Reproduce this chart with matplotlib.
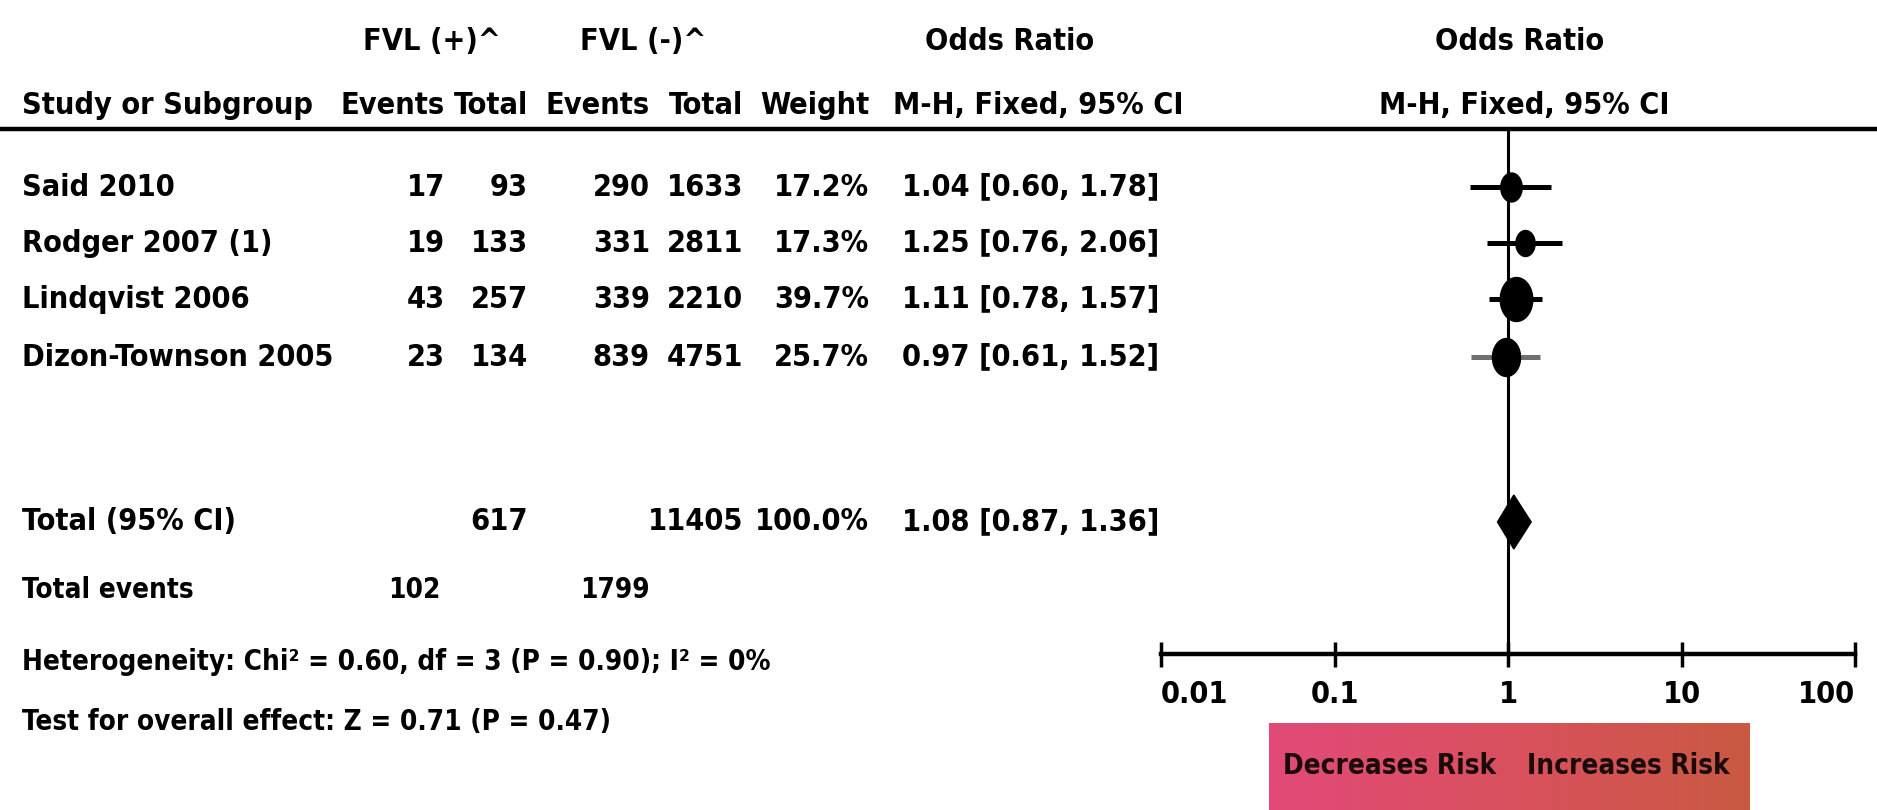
import matplotlib
matplotlib.use("Agg")
import matplotlib.pyplot as plt
import numpy as np
from matplotlib import font_manager as fm
from matplotlib.colors import LinearSegmentedColormap
from matplotlib.patches import Polygon
from matplotlib.ticker import NullLocator

# ---------------- data ----------------
studies = ["Said 2010", "Rodger 2007 (1)", "Lindqvist 2006", "Dizon-Townson 2005"]
events_pos = [17, 19, 43, 23]
total_pos = [93, 133, 257, 134]
events_neg = [290, 331, 339, 839]
total_neg = [1633, 2811, 2210, 4751]
weights = [17.2, 17.3, 39.7, 25.7]
odds_ratio = [1.04, 1.25, 1.11, 0.97]
ci_low = [0.60, 0.76, 0.78, 0.61]
ci_high = [1.78, 2.06, 1.57, 1.52]
marker_px = [29, 26, 44, 38]          # apparent box heights in picture

total_label = "Total (95% CI)"
total_n_pos = 617
total_n_neg = 11405
total_weight = 100.0
total_or = 1.08
total_low = 0.87
total_high = 1.36
total_events_pos = 102
total_events_neg = 1799
heterogeneity = "Heterogeneity: Chi\u00b2 = 0.60, df = 3 (P = 0.90); I\u00b2 = 0%"
overall_test = "Test for overall effect: Z = 0.71 (P = 0.47)"

tick_values = [0.01, 0.1, 1, 10, 100]
tick_labels = ["0.01", "0.1", "1", "10", "100"]
favours_left = "Decreases Risk"
favours_right = "Increases Risk"

# ---------------- font ----------------
names = {f.name for f in fm.fontManager.ttflist}
if "Liberation Sans Narrow" in names:
    FONT, STRETCH = "Liberation Sans Narrow", "normal"
else:
    FONT, STRETCH = "DejaVu Sans", "condensed"

W, H = 1877, 810
fig = plt.figure(figsize=(W / 100, H / 100), dpi=100)
fig.patch.set_facecolor("white")
ax = fig.add_axes([0, 0, 1, 1])
ax.set_xlim(0, W)
ax.set_ylim(H, 0)
ax.axis("off")

FS = 22
FS_FOOT = 20
def T(x, y, s, ha="left", **kw):
    d = dict(fontfamily=FONT, fontstretch=STRETCH, fontweight="bold",
             fontsize=FS, va="center", ha=ha, color="black")
    d.update(kw)
    ax.text(x, y, s, **d)

# column right edges (px)
c_ev1, c_tot1, c_ev2, c_tot2, c_w, c_or = 445, 528, 650, 743, 869, 1159
x_name = 22

# header
y_h1, y_h2, y_line = 42, 106, 129
T(363, y_h1, "FVL (+)^")
T(580, y_h1, "FVL (-)^")
T(1010, y_h1, "Odds Ratio", ha="center")
T(1520, y_h1, "Odds Ratio", ha="center")
T(x_name, y_h2, "Study or Subgroup")
T(c_ev1, y_h2, "Events", ha="right")
T(c_tot1, y_h2, "Total", ha="right")
T(c_ev2, y_h2, "Events", ha="right")
T(c_tot2, y_h2, "Total", ha="right")
T(c_w, y_h2, "Weight", ha="right")
T(893, y_h2, "M-H, Fixed, 95% CI")
T(1524, y_h2, "M-H, Fixed, 95% CI", ha="center")
ax.axhline(y_line, color="black", lw=3.2)

row_y = [187, 243, 299, 357]
for i, y in enumerate(row_y):
    T(x_name, y, studies[i])
    T(c_ev1, y, f"{events_pos[i]}", ha="right")
    T(c_tot1, y, f"{total_pos[i]}", ha="right")
    T(c_ev2, y, f"{events_neg[i]}", ha="right")
    T(c_tot2, y, f"{total_neg[i]}", ha="right")
    T(c_w, y, f"{weights[i]:.1f}%", ha="right")
    T(c_or, y, f"{odds_ratio[i]:.2f} [{ci_low[i]:.2f}, {ci_high[i]:.2f}]", ha="right")

y_tot, y_ev, y_het, y_test = 522, 590, 662, 722
T(x_name, y_tot, total_label)
T(c_tot1, y_tot, f"{total_n_pos}", ha="right")
T(c_tot2, y_tot, f"{total_n_neg}", ha="right")
T(c_w, y_tot, f"{total_weight:.1f}%", ha="right")
T(c_or, y_tot, f"{total_or:.2f} [{total_low:.2f}, {total_high:.2f}]", ha="right")
T(x_name, y_ev, "Total events", fontsize=FS_FOOT)
T(c_ev1 - 4, y_ev, f"{total_events_pos}", ha="right", fontsize=FS_FOOT)
T(c_ev2, y_ev, f"{total_events_neg}", ha="right", fontsize=FS_FOOT)
T(x_name, y_het, heterogeneity, fontsize=FS_FOOT)
T(x_name, y_test, overall_test, fontsize=FS_FOOT)

# favours box with gradient
cmap = LinearSegmentedColormap.from_list("fav", ["#e24a78", "#d9505e", "#c95a42"])
grad = np.linspace(0, 1, 256).reshape(1, -1)
ax.imshow(grad, extent=(1269, 1750, 810, 723), cmap=cmap, aspect="auto", zorder=1)
ax.set_xlim(0, W)
ax.set_ylim(H, 0)
T(1283, 766, favours_left, color="#1a0a0a", zorder=3, fontsize=20)
T(1730, 766, favours_right, ha="right", color="#1a0a0a", zorder=3, fontsize=20)

# ---------------- forest plot ----------------
x0, x1 = 1161, 1855
y_axis = 654
fax = fig.add_axes([x0 / W, 0, (x1 - x0) / W, 1])
fax.set_xscale("log")
fax.set_xlim(0.01, 100)
fax.set_ylim(H, 0)
fax.patch.set_visible(False)
for s in ["top", "left", "right"]:
    fax.spines[s].set_visible(False)
fax.spines["bottom"].set_position(("data", y_axis))
fax.spines["bottom"].set_linewidth(3.2)
fax.set_yticks([])
fax.set_xticks(tick_values)
fax.set_xticklabels(tick_labels)
fax.xaxis.set_minor_locator(NullLocator())
fax.tick_params(axis="x", direction="inout", length=18, width=2.5, pad=10,
                labelsize=FS, colors="black")
lbls = fax.get_xticklabels()
for lbl in lbls:
    lbl.set_fontfamily(FONT)
    lbl.set_fontstretch(STRETCH)
    lbl.set_fontweight("bold")
lbls[0].set_horizontalalignment("left")
lbls[-1].set_horizontalalignment("right")

# line of no effect
fax.plot([1, 1], [y_line, y_axis], color="black", lw=2.2, zorder=2)

ci_colors = ["black", "black", "black", "#707070"]
fax.hlines(row_y, ci_low, ci_high, colors=ci_colors, lw=3.6, zorder=3)
t = np.linspace(0, 2 * np.pi, 40)
ell = list(zip(0.74 * np.cos(t), np.sin(t)))
for i, y in enumerate(row_y):
    fax.plot([odds_ratio[i]], [y], marker=ell, markersize=marker_px[i] * 0.72,
             color="black", linestyle="none", zorder=4)

dh = 27
fax.add_patch(Polygon([(total_low, y_tot), (total_or, y_tot - dh),
                       (total_high, y_tot), (total_or, y_tot + dh)],
                      closed=True, facecolor="black", edgecolor="black", zorder=4))

fig.savefig("out.png", dpi=100, facecolor="white")
